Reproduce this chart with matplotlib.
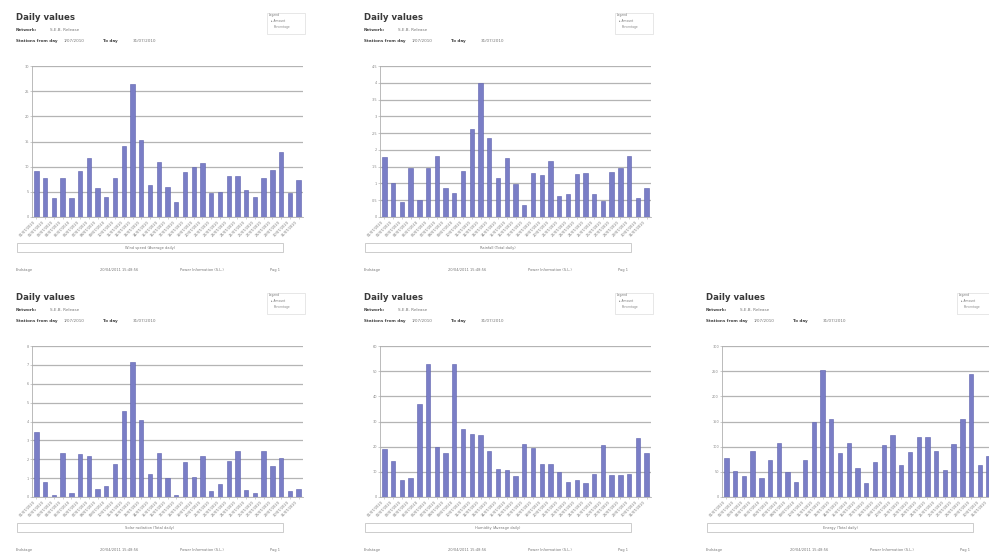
import matplotlib
matplotlib.use("Agg")
import matplotlib.pyplot as plt
from matplotlib.patches import Rectangle
import numpy as np

W, H = 989, 556

days = [f"{d:02d}/07/2010" for d in range(1, 32)]

panel1_values = [9.2, 7.7, 3.7, 7.7, 3.7, 9.2, 11.7, 5.8, 4.0, 7.7, 14.2, 26.5, 15.2, 6.4, 11.0, 6.0,
                 2.9, 8.9, 10.0, 10.7, 4.7, 5.0, 8.2, 8.2, 5.4, 3.9, 7.7, 9.4, 13.0, 4.7, 7.4]
panel2_values = [1.78, 1.0, 0.45, 1.47, 0.5, 1.45, 1.83, 0.85, 0.72, 1.38, 2.62, 4.0, 2.34, 1.17, 1.77, 0.98,
                 0.37, 1.32, 1.25, 1.68, 0.62, 0.7, 1.28, 1.3, 0.7, 0.48, 1.35, 1.47, 1.83, 0.57, 0.87]
panel3_values = [3.42, 0.8, 0.12, 2.32, 0.21, 2.27, 2.18, 0.41, 0.58, 1.73, 4.57, 7.17, 4.07, 1.24, 2.35, 1.03,
                 0.09, 1.86, 1.06, 2.18, 0.3, 0.71, 1.91, 2.42, 0.39, 0.21, 2.42, 1.66, 2.04, 0.3, 0.41]
panel4_values = [18.9, 14.2, 6.9, 7.7, 36.8, 53.0, 19.9, 17.6, 53.0, 27.2, 25.2, 24.8, 18.1, 11.3, 10.6, 8.3,
                 21.2, 19.5, 13.2, 13.2, 9.9, 6.0, 6.6, 5.6, 9.3, 20.5, 8.6, 8.9, 9.3, 23.4, 17.6]
panel5_values = [77, 52, 42, 91, 37, 73, 107, 50, 30, 73, 150, 252, 155, 88, 107, 57,
                 27, 69, 103, 124, 63, 90, 119, 119, 91, 54, 105, 155, 244, 63, 81]

y_steps = [5, 0.5, 1, 10, 50]
y_tops = [30, 4.5, 8, 60, 300]
captions = ["Wind speed (Average daily)", "Rainfall (Total daily)", "Solar radiation (Total daily)",
            "Humidity (Average daily)", "Energy (Total daily)"]
network_name = "S.E.B. Release"
date_from = "1/07/2010"
date_to = "31/07/2010"
footer_texts = ["Endstage", "20/04/2011 15:48:56", "Power Information (S.L.)", "Pag 1"]

BAR = "#7a7ec6"
GRID = "#b4b4b4"

fig = plt.figure(figsize=(W / 100, H / 100), dpi=100)
fig.patch.set_facecolor("white")


def fx(x):
    return x / W


def fy(y):
    return 1 - y / H


def ftext(x, y, s, **kw):
    fig.text(fx(x), fy(y), s, va="center", **kw)


def panel(ox, oy, values, step, top, caption):
    # header
    ftext(ox + 16, oy + 18, "Daily values", fontsize=6.2, fontweight="bold", color="#3a3a3a")
    ftext(ox + 16, oy + 30, "Network:", fontsize=3, fontweight="bold", color="#444444")
    ftext(ox + 50, oy + 30, network_name, fontsize=3, color="#777777")
    ftext(ox + 16, oy + 41, "Stations from day", fontsize=3, fontweight="bold", color="#444444")
    ftext(ox + 64, oy + 41, date_from, fontsize=3, color="#777777")
    ftext(ox + 103, oy + 41, "To day", fontsize=3, fontweight="bold", color="#444444")
    ftext(ox + 133, oy + 41, date_to, fontsize=3, color="#777777")
    # legend box
    fig.patches.append(Rectangle((fx(ox + 267), fy(oy + 34)), fx(38), 21 / H,
                                 transform=fig.transFigure, fill=False, edgecolor="#dddddd", lw=0.5))
    ftext(ox + 269, oy + 15, "Legend", fontsize=2.2, color="#777777")
    ftext(ox + 271, oy + 21, "\u25b8 Amount", fontsize=2.2, color="#777777")
    ftext(ox + 274, oy + 27, "Percentage", fontsize=2.2, color="#888888")

    # axes
    left, right, ytop, ybot = ox + 32, ox + 303, oy + 66, oy + 217
    ax = fig.add_axes([fx(left), fy(ybot), (right - left) / W, (ybot - ytop) / H])
    x = np.arange(len(values))
    ax.bar(x, values, width=0.5, color=BAR, edgecolor="#5c60ad", linewidth=0.4, zorder=3)
    ax.set_xlim(-0.5, len(values) - 0.5)
    ax.set_ylim(0, top)
    ticks = np.arange(0, top + step / 2, step)
    ax.set_yticks(ticks)
    ax.set_yticklabels([f"{t:g}" for t in ticks], fontsize=2.5, color="#888888")
    ax.yaxis.grid(True, color=GRID, lw=0.9, zorder=0)
    ax.set_axisbelow(True)
    ax.set_xticks(x)
    ax.set_xticklabels(days, rotation=45, ha="right", fontsize=2.6, color="#777777")
    ax.tick_params(axis="both", length=1.2, width=0.4, color="#aaaaaa", pad=1)
    for s in ["top", "right"]:
        ax.spines[s].set_visible(False)
    for s in ["left", "bottom"]:
        ax.spines[s].set_color("#b0b0b0")
        ax.spines[s].set_linewidth(0.6)

    # caption box
    fig.patches.append(Rectangle((fx(ox + 17), fy(oy + 252)), fx(266), 9 / H,
                                 transform=fig.transFigure, fill=False, edgecolor="#c4c4c4", lw=0.6))
    fig.text(fx(ox + 150), fy(oy + 247.5), caption, fontsize=2.6, color="#777777",
             ha="center", va="center")
    # footer
    for xx, s in zip([16, 100, 180, 270], footer_texts):
        ftext(ox + xx, oy + 270, s, fontsize=2.6, color="#777777")


origins = [(0, 0), (348, 0), (0, 280), (348, 280), (690, 280)]
all_values = [panel1_values, panel2_values, panel3_values, panel4_values, panel5_values]
for (ox, oy), vals, st, tp, cap in zip(origins, all_values, y_steps, y_tops, captions):
    panel(ox, oy, vals, st, tp, cap)

fig.savefig("out.png", dpi=100, facecolor="white")
